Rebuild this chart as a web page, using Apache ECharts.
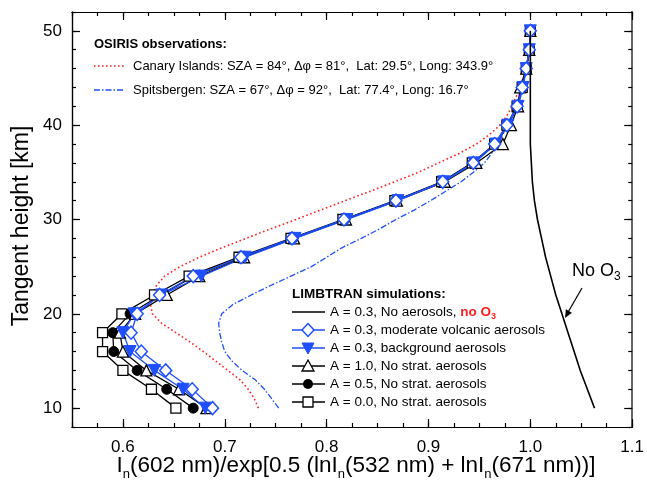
<!DOCTYPE html>
<html>
<head>
<meta charset="utf-8">
<script src="https://cdn.jsdelivr.net/npm/echarts@6/dist/echarts.min.js"></script>
<style>
html,body{margin:0;padding:0;background:#fff;}
#c{width:647px;height:488px;}
</style>
</head>
<body>
<div id="c"></div>
<script>
// ---- data ----
const modelHeights = [10,12,14,16,18,20,22,24,26,28,30,32,34,36,38,40,42,44,46,48,50];
const noO3       = [1.063,1.056,1.049,1.043,1.037,1.031,1.025,1.020,1.015,1.011,1.007,1.004,1.002,1.001,1.000,1.000,1.000,1.000,1.000,1.000,1.000];
const volcanic   = [0.688,0.668,0.642,0.618,0.608,0.614,0.636,0.669,0.716,0.766,0.817,0.868,0.914,0.944,0.965,0.977,0.987,0.992,0.996,0.999,1.000];
const background = [0.681,0.659,0.631,0.607,0.600,0.611,0.638,0.677,0.720,0.769,0.820,0.870,0.915,0.945,0.966,0.978,0.988,0.993,0.996,0.999,1.000];
const albedo10   = [0.682,0.655,0.623,0.600,0.597,0.612,0.643,0.675,0.719,0.768,0.819,0.869,0.916,0.947,0.973,0.981,0.988,0.990,0.996,0.999,1.000];
const albedo05   = [0.669,0.643,0.614,0.591,0.590,0.607,0.637,0.670,0.717,0.767,0.818,0.868,0.914,0.944,0.966,0.978,0.987,0.992,0.996,0.999,1.000];
const albedo00   = [0.652,0.628,0.600,0.580,0.580,0.599,0.631,0.665,0.714,0.765,0.816,0.867,0.913,0.943,0.965,0.977,0.987,0.992,0.996,0.999,1.000];

const obsHeights = [10,11,12,13,14,15,16,17,18,19,20,21,22,23,24,25,26,27,28,29,30,31,32,33,34,35,36,37,38,39,40,41,42,43,44,45,46,47,48,49,50];
const canary      = [0.733,0.729,0.723,0.715,0.703,0.691,0.679,0.666,0.652,0.638,0.629,0.627,0.629,0.633,0.641,0.656,0.675,0.697,0.721,0.745,0.770,0.794,0.818,0.843,0.867,0.890,0.910,0.930,0.947,0.960,0.970,0.977,0.982,0.986,0.990,0.993,0.996,0.998,0.999,1.000,1.000];
const spitsbergen = [0.753,0.746,0.739,0.730,0.717,0.707,0.700,0.697,0.695,0.694,0.697,0.708,0.726,0.745,0.765,0.785,0.800,0.815,0.834,0.852,0.868,0.886,0.902,0.917,0.932,0.944,0.955,0.962,0.968,0.973,0.978,0.982,0.986,0.989,0.991,0.994,0.996,0.998,1.000,1.000,1.000];

const xMajorTicks = [0.6,0.7,0.8,0.9,1.0,1.1];
const yMajorTicks = [10,20,30,40,50];

// ---- chart ----
const FONT = '"Liberation Sans", Arial, Helvetica, sans-serif';
const BLUE = '#1f4fff';
const RED = '#ff2020';
const pair = (xs, hs) => xs.map((v,i)=>[v, hs[i]]);

const chart = echarts.init(document.getElementById('c'), null, {renderer:'canvas'});

function xAx(position, major, labels){
  const a = {
    type:'value', min:0.55, max:1.1, position:position,
    axisLine:{show:true, lineStyle:{color:'#000', width:1.2}},
    splitLine:{show:false},
    axisTick:{show:true, inside:true, length: major?8:4, lineStyle:{color:'#000', width:1.2}},
    axisLabel:{show:labels, fontFamily:FONT, fontSize:17, color:'#000', margin:12,
      formatter:(v)=>v.toFixed(1)}
  };
  if (major){ a.axisTick.customValues = xMajorTicks; a.axisLabel.customValues = xMajorTicks; }
  else { a.interval = 0.025; }
  return a;
}
function yAx(position, major, labels){
  const a = {
    type:'value', min:8, max:52, position:position,
    axisLine:{show:true, lineStyle:{color: position==='right' ? '#666' : '#000', width: position==='right'?2:1.2}},
    splitLine:{show:false},
    axisTick:{show:true, inside:true, length: major?8:4, lineStyle:{color:'#000', width:1.2}},
    axisLabel:{show:labels, fontFamily:FONT, fontSize:17, color:'#000', margin:10}
  };
  if (major){ a.axisTick.customValues = yMajorTicks; a.axisLabel.customValues = yMajorTicks; }
  else { a.interval = 2; }
  return a;
}

function modelSeries(name, vals, symbol, opts){
  return Object.assign({
    name:name, type:'line', data:pair(vals, modelHeights),
    xAxisIndex:0, yAxisIndex:0,
    symbol:symbol, symbolSize:10, showSymbol:true,
    lineStyle:{width:1.3, color:'#000'},
    itemStyle:{color:'#fff', borderColor:'#000', borderWidth:1.3},
    animation:false, z:3
  }, opts||{});
}

const series = [
  {name:'Canary', type:'line', data:pair(canary, obsHeights), showSymbol:false, symbol:'none',
   lineStyle:{color:RED, width:1.6, type:[1.6,2.6]}, animation:false, z:2},
  {name:'Spitsbergen', type:'line', data:pair(spitsbergen, obsHeights), showSymbol:false, symbol:'none',
   lineStyle:{color:BLUE, width:1.3, type:[6,2,1.5,2]}, animation:false, z:2},
  modelSeries('A00', albedo00, 'rect', {symbolSize:10}),
  modelSeries('A05', albedo05, 'circle', {symbolSize:10, itemStyle:{color:'#000', borderColor:'#000', borderWidth:1}}),
  modelSeries('A10', albedo10, 'triangle', {symbolSize:11}),
  modelSeries('bg', background, 'triangle', {symbolSize:12, symbolRotate:180,
     lineStyle:{width:1.3, color:BLUE}, itemStyle:{color:BLUE, borderColor:BLUE, borderWidth:1}}),
  modelSeries('volc', volcanic, 'diamond', {symbolSize:[12,13],
     lineStyle:{width:1.3, color:BLUE}, itemStyle:{color:'#fff', borderColor:BLUE, borderWidth:1.5}}),
  {name:'noO3', type:'line', data:pair(noO3, modelHeights), showSymbol:false, symbol:'none',
   lineStyle:{color:'#000', width:1.6}, animation:false, z:4}
];

// legend helpers (graphic)
const LX = 292, LX2 = 325, LMX = 308, LTX = 330;
const rowsY = [312, 330, 348, 366, 384, 402];
const LFONT = '13.5px ' + FONT;
const legG = [];
function legLine(y, color){ legG.push({type:'line', shape:{x1:LX,y1:y,x2:LX2,y2:y}, style:{stroke:color, lineWidth:1.3}, z:10}); }
function legText(y, text, rich){ legG.push({type:'text', x:LTX, y:y, style:{text:text, font:LFONT, fill:'#000', verticalAlign:'middle', align:'left', rich:rich||undefined}, z:10}); }

// row 0: no O3
legLine(rowsY[0], '#000');
legText(rowsY[0], 'A = 0.3, No aerosols, {r|no O}{rs|3}', {
  r:{font:'bold 13.5px '+FONT, fill:RED, lineHeight:18},
  rs:{font:'bold 9px '+FONT, fill:RED, lineHeight:9, verticalAlign:'bottom'}
});
// row 1: volcanic
legLine(rowsY[1], BLUE);
legG.push({type:'polygon', shape:{points:[[LMX,rowsY[1]-6.5],[LMX+6,rowsY[1]],[LMX,rowsY[1]+6.5],[LMX-6,rowsY[1]]]}, style:{fill:'#fff', stroke:BLUE, lineWidth:1.5}, z:11});
legText(rowsY[1], 'A = 0.3, moderate volcanic aerosols');
// row 2: background
legLine(rowsY[2], BLUE);
legG.push({type:'polygon', shape:{points:[[LMX-6,rowsY[2]-5],[LMX+6,rowsY[2]-5],[LMX,rowsY[2]+6]]}, style:{fill:BLUE, stroke:BLUE, lineWidth:1}, z:11});
legText(rowsY[2], 'A = 0.3, background aerosols');
// row 3: A=1.0
legLine(rowsY[3], '#000');
legG.push({type:'polygon', shape:{points:[[LMX,rowsY[3]-6],[LMX+6,rowsY[3]+5],[LMX-6,rowsY[3]+5]]}, style:{fill:'#fff', stroke:'#000', lineWidth:1.3}, z:11});
legText(rowsY[3], 'A = 1.0, No strat. aerosols');
// row 4: A=0.5
legLine(rowsY[4], '#000');
legG.push({type:'circle', shape:{cx:LMX, cy:rowsY[4], r:5}, style:{fill:'#000'}, z:11});
legText(rowsY[4], 'A = 0.5, No strat. aerosols');
// row 5: A=0.0
legLine(rowsY[5], '#000');
legG.push({type:'rect', shape:{x:LMX-5, y:rowsY[5]-5, width:10, height:10}, style:{fill:'#fff', stroke:'#000', lineWidth:1.3}, z:11});
legText(rowsY[5], 'A = 0.0, No strat. aerosols');

const graphics = [
  // LIMBTRAN header
  {type:'text', x:292, y:294, style:{text:'LIMBTRAN simulations:', font:'bold 13.5px '+FONT, fill:'#000', verticalAlign:'middle'}, z:10},
  // OSIRIS legend
  {type:'text', x:94, y:44, style:{text:'OSIRIS observations:', font:'bold 13px '+FONT, fill:'#000', verticalAlign:'middle'}, z:10},
  {type:'line', shape:{x1:94,y1:66,x2:125,y2:66}, style:{stroke:RED, lineWidth:1.6, lineDash:[1.6,2.4]}, z:10},
  {type:'text', x:133, y:66, style:{text:'Canary Islands: SZA = 84°, Δφ = 81°,  Lat: 29.5°, Long: 343.9°', font:'13px '+FONT, fill:'#000', verticalAlign:'middle'}, z:10},
  {type:'line', shape:{x1:94,y1:90,x2:125,y2:90}, style:{stroke:BLUE, lineWidth:1.3, lineDash:[6,2,1.5,2]}, z:10},
  {type:'text', x:133, y:90, style:{text:'Spitsbergen: SZA = 67°, Δφ = 92°,  Lat: 77.4°, Long: 16.7°', font:'13px '+FONT, fill:'#000', verticalAlign:'middle'}, z:10},
  // No O3 annotation
  {type:'text', x:572, y:271, style:{text:'No O{s|3}', font:'18px '+FONT, fill:'#000', verticalAlign:'middle',
     rich:{s:{font:'12px '+FONT, fill:'#000', lineHeight:10, verticalAlign:'bottom'}}, lineHeight:24}, z:10},
  {type:'line', shape:{x1:582,y1:288,x2:567,y2:314}, style:{stroke:'#000', lineWidth:1.2}, z:10},
  {type:'polygon', shape:{points:[[565,318],[571.9,312.8],[565.9,309.3]]}, style:{fill:'#000'}, z:10},
  // axis titles
  {type:'text', x:356, y:466, style:{text:'I{s|n}(602 nm)/exp[0.5 (lnI{s|n}(532 nm) + lnI{s|n}(671 nm))]', font:'22.5px '+FONT, fill:'#000',
     align:'center', verticalAlign:'middle', lineHeight:30,
     rich:{s:{font:'13px '+FONT, fill:'#000', lineHeight:10, verticalAlign:'bottom'}}}, z:10},
  {type:'text', x:22, y:226, rotation:Math.PI/2, style:{text:'Tangent height [km]', font:'23px '+FONT, fill:'#000', align:'center', verticalAlign:'middle'}, z:10}
].concat(legG);

chart.setOption({
  animation:false,
  backgroundColor:'#fff',
  grid:{left:72, right:10, top:12, bottom:61, containLabel:false},
  xAxis:[xAx('bottom',true,true), xAx('bottom',false,false), xAx('top',true,false), xAx('top',false,false)],
  yAxis:[yAx('left',true,true), yAx('left',false,false), yAx('right',true,false), yAx('right',false,false)],
  series:series,
  graphic:graphics
});
</script>
</body>
</html>
